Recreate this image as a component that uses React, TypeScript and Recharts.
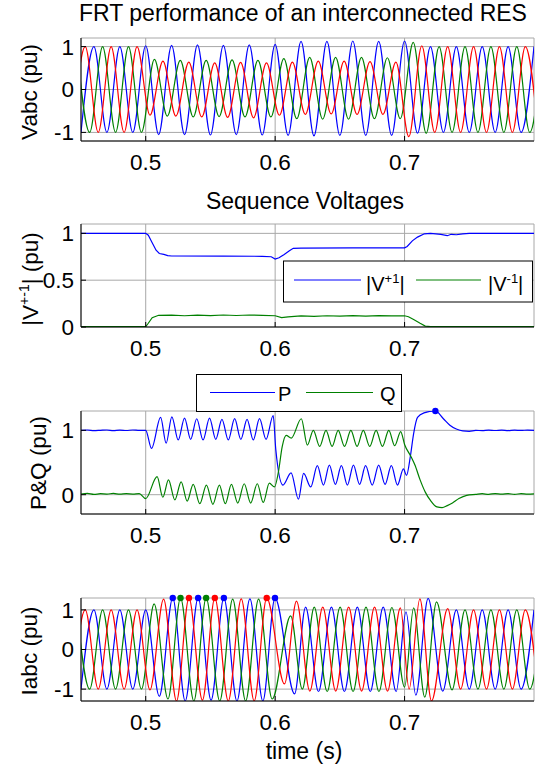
import React from "react";
import { CartesianGrid, Line, LineChart, XAxis, YAxis } from "recharts";

type Pt = [number, number];

// shared time axis
const timeTicks = [0.5, 0.6, 0.7];
const timeRange: [number, number] = [0.45, 0.8];

const vabcTicks = [-1, 0, 1];
const seqTicks = [0, 0.5, 1];
const pqTicks = [0, 1];
const iabcTicks = [-1, 0, 1];

// Vabc: half-cycle extremes (time s, pu) per phase
const vaPts: Pt[] = [
  [0.4433, -1.0], [0.4533, 1.0], [0.4633, -1.0], [0.4733, 1.0], [0.4833, -1.0], [0.4933, 1.0],
  [0.5033, -0.6], [0.5133, 0.66], [0.5233, -0.62], [0.5333, 0.64], [0.5433, -0.64], [0.5533, 0.62],
  [0.5633, -0.65], [0.5733, 0.63], [0.5833, -0.66], [0.5933, 0.62], [0.6033, -0.6], [0.6133, 0.64],
  [0.6233, -0.58], [0.6333, 0.66], [0.6433, -0.57], [0.6533, 0.66], [0.6633, -0.58], [0.6733, 0.65],
  [0.6833, -0.58], [0.6933, 0.64], [0.7033, -1.1], [0.7133, 1.02], [0.7233, -1.0], [0.7333, 1.0],
  [0.7433, -1.0], [0.7533, 1.0], [0.7633, -1.0], [0.7733, 1.0], [0.7833, -1.0], [0.7933, 1.0], [0.8033, -1.0],
];
const vbPts: Pt[] = [
  [0.4467, 1.0], [0.4567, -1.0], [0.4667, 1.0], [0.4767, -1.0], [0.4867, 1.0], [0.4967, -1.0],
  [0.5067, 0.7], [0.5167, -0.62], [0.5267, 0.68], [0.5367, -0.64], [0.5467, 0.68], [0.5567, -0.63],
  [0.5667, 0.69], [0.5767, -0.64], [0.5867, 0.68], [0.5967, -0.64], [0.6067, 0.72], [0.6167, -0.68],
  [0.6267, 0.75], [0.6367, -0.69], [0.6467, 0.75], [0.6567, -0.69], [0.6667, 0.75], [0.6767, -0.68],
  [0.6867, 0.74], [0.6967, -0.68], [0.7067, 1.1], [0.7167, -1.02], [0.7267, 1.0], [0.7367, -1.0],
  [0.7467, 1.0], [0.7567, -1.0], [0.7667, 1.0], [0.7767, -1.0], [0.7867, 1.0], [0.7967, -1.0], [0.8067, 1.0],
];
const vcPts: Pt[] = [
  [0.45, -1.0], [0.46, 1.0], [0.47, -1.0], [0.48, 1.0], [0.49, -1.0], [0.5, 1.02],
  [0.51, -1.05], [0.52, 1.03], [0.53, -1.05], [0.54, 1.04], [0.55, -1.06], [0.56, 1.03],
  [0.57, -1.05], [0.58, 1.04], [0.59, -1.06], [0.6, 1.05], [0.61, -1.07], [0.62, 1.12],
  [0.63, -1.08], [0.64, 1.12], [0.65, -1.07], [0.66, 1.13], [0.67, -1.07], [0.68, 1.12],
  [0.69, -1.07], [0.7, 1.13], [0.71, -1.02], [0.72, 1.0], [0.73, -1.0], [0.74, 1.0],
  [0.75, -1.0], [0.76, 1.0], [0.77, -1.0], [0.78, 1.0], [0.79, -1.0], [0.8, 1.0],
];

// sequence voltage magnitudes
const vPosPts: Pt[] = [
  [0.45, 1.0], [0.5, 1.0], [0.502, 0.98], [0.505, 0.9], [0.508, 0.82], [0.5105, 0.785], [0.514, 0.775],
  [0.517, 0.762], [0.52, 0.758], [0.56, 0.757], [0.59, 0.755], [0.597, 0.75], [0.6, 0.725], [0.603, 0.74],
  [0.607, 0.775], [0.611, 0.815], [0.614, 0.84], [0.62, 0.843], [0.66, 0.845], [0.7, 0.845], [0.702, 0.86],
  [0.706, 0.92], [0.71, 0.96], [0.7153, 0.995], [0.72, 1.0], [0.728, 0.99], [0.733, 0.975], [0.736, 0.99],
  [0.74, 0.985], [0.745, 0.995], [0.75, 1.0], [0.8, 1.0],
];
const vNegPts: Pt[] = [
  [0.45, 0.004], [0.5, 0.004], [0.502, 0.04], [0.505, 0.1], [0.51, 0.125], [0.52, 0.126], [0.53, 0.12],
  [0.54, 0.127], [0.55, 0.122], [0.56, 0.128], [0.57, 0.123], [0.58, 0.128], [0.59, 0.124], [0.6, 0.12],
  [0.605, 0.1], [0.61, 0.108], [0.62, 0.118], [0.63, 0.114], [0.64, 0.12], [0.65, 0.116], [0.66, 0.121],
  [0.67, 0.117], [0.68, 0.121], [0.69, 0.118], [0.7, 0.12], [0.703, 0.11], [0.707, 0.08], [0.712, 0.04],
  [0.716, 0.01], [0.72, 0.004], [0.8, 0.004],
];

// active / reactive power
const pPts: Pt[] = [
  [0.45, 1.0], [0.455, 1.005], [0.46, 0.995], [0.465, 1.0], [0.47, 1.005], [0.475, 0.995], [0.48, 1.003],
  [0.485, 0.997], [0.49, 1.005], [0.495, 0.998], [0.5, 1.0], [0.5045, 0.72], [0.5115, 1.2], [0.5158, 0.8],
  [0.5202, 1.21], [0.5251, 0.85], [0.53, 1.19], [0.5347, 0.86], [0.5394, 1.18], [0.5443, 0.85], [0.5493, 1.19],
  [0.5541, 0.86], [0.5589, 1.17], [0.5638, 0.85], [0.5687, 1.18], [0.5735, 0.86], [0.5783, 1.17], [0.5831, 0.85],
  [0.5879, 1.18], [0.593, 0.86], [0.5985, 1.23], [0.6005, 0.7], [0.606, 0.15], [0.6123, 0.34], [0.618, -0.07],
  [0.622, 0.33], [0.6275, 0.12], [0.6326, 0.45], [0.6373, 0.15], [0.6419, 0.46], [0.6465, 0.16], [0.6512, 0.45],
  [0.6558, 0.15], [0.6605, 0.46], [0.6652, 0.16], [0.6699, 0.45], [0.675, 0.15], [0.68, 0.46], [0.6849, 0.16],
  [0.6898, 0.45], [0.6945, 0.15], [0.6991, 0.4], [0.7015, 0.3], [0.7045, 0.6], [0.707, 0.95], [0.71, 1.2],
  [0.715, 1.27], [0.7238, 1.3], [0.73, 1.18], [0.735, 1.08], [0.74, 1.02], [0.745, 0.99], [0.75, 0.985],
  [0.755, 1.0], [0.76, 0.995], [0.765, 1.003], [0.77, 0.997], [0.775, 1.004], [0.78, 0.996], [0.785, 1.003],
  [0.79, 0.998], [0.795, 1.004], [0.8, 1.0],
];
const qPts: Pt[] = [
  [0.45, 0.01], [0.455, 0.02], [0.46, 0.005], [0.465, 0.015], [0.47, 0.01], [0.475, 0.02], [0.48, 0.008],
  [0.485, 0.015], [0.49, 0.01], [0.495, 0.018], [0.5, -0.06], [0.5088, 0.28], [0.5132, -0.04], [0.5176, 0.23],
  [0.5225, -0.08], [0.5274, 0.2], [0.532, -0.1], [0.5367, 0.16], [0.5418, -0.14], [0.5469, 0.15], [0.5519, -0.15],
  [0.5569, 0.15], [0.5615, -0.14], [0.5662, 0.16], [0.5711, -0.13], [0.5761, 0.17], [0.5811, -0.13], [0.5862, 0.17],
  [0.5908, -0.12], [0.5955, 0.18], [0.5995, 0.12], [0.6025, 0.35], [0.6055, 0.75], [0.6085, 0.92], [0.6125, 0.88],
  [0.6202, 1.18], [0.6249, 0.77], [0.6295, 1.0], [0.6344, 0.75], [0.6393, 1.0], [0.644, 0.75], [0.6487, 1.0],
  [0.6536, 0.75], [0.6585, 1.0], [0.6633, 0.75], [0.6681, 1.0], [0.6731, 0.75], [0.678, 1.0], [0.6829, 0.75],
  [0.6878, 1.0], [0.6924, 0.76], [0.697, 0.98], [0.7, 0.78], [0.705, 0.59], [0.708, 0.46], [0.712, 0.23],
  [0.716, 0.04], [0.72, -0.09], [0.725, -0.19], [0.729, -0.2], [0.733, -0.17], [0.737, -0.13], [0.742, -0.06],
  [0.748, -0.01], [0.755, 0.005], [0.76, 0.015], [0.765, 0.005], [0.77, 0.018], [0.775, 0.008], [0.78, 0.016],
  [0.785, 0.006], [0.79, 0.015], [0.795, 0.008], [0.8, 0.012],
];

// Iabc: half-cycle extremes per phase
const iaPts: Pt[] = [
  [0.4433, -1.0], [0.4533, 1.0], [0.4633, -1.0], [0.4733, 1.0], [0.4833, -1.0], [0.4933, 1.0],
  [0.5033, -1.02], [0.5138, 1.27], [0.5238, -1.3], [0.5334, 1.3], [0.5438, -1.28], [0.5534, 1.3],
  [0.5638, -1.3], [0.5738, 1.28], [0.5838, -1.3], [0.5935, 1.3], [0.6072, -0.87], [0.6165, 1.22],
  [0.6268, -1.05], [0.6368, 1.07], [0.6468, -1.05], [0.6568, 1.07], [0.6668, -1.05], [0.6768, 1.07],
  [0.6868, -1.05], [0.6968, 1.05], [0.7035, -1.0], [0.7118, 1.28], [0.7208, -1.3], [0.7333, 1.03],
  [0.7433, -1.0], [0.7533, 1.0], [0.7633, -1.0], [0.7733, 1.0], [0.7833, -1.0], [0.7933, 1.0], [0.8033, -1.0],
];
const ibPts: Pt[] = [
  [0.4467, 1.0], [0.4567, -1.0], [0.4667, 1.0], [0.4767, -1.0], [0.4867, 1.0], [0.4967, -1.0],
  [0.5065, 1.15], [0.5172, -1.25], [0.5269, 1.3], [0.5372, -1.3], [0.5467, 1.3], [0.5572, -1.3],
  [0.5672, 1.27], [0.5772, -1.3], [0.5872, 1.27], [0.5977, -1.25], [0.612, 0.85], [0.621, -1.0],
  [0.6302, 1.07], [0.6402, -1.06], [0.6502, 1.07], [0.6602, -1.06], [0.6702, 1.07], [0.6802, -1.06],
  [0.6902, 1.06], [0.7, -0.95], [0.707, 1.05], [0.7156, -1.2], [0.7247, 1.2], [0.7367, -1.02],
  [0.7467, 1.0], [0.7567, -1.0], [0.7667, 1.0], [0.7767, -1.0], [0.7867, 1.0], [0.7967, -1.0], [0.8067, 1.0],
];
const icPts: Pt[] = [
  [0.45, -1.0], [0.46, 1.0], [0.47, -1.0], [0.48, 1.0], [0.49, -1.0], [0.5, 1.0],
  [0.5105, -1.18], [0.5209, 1.3], [0.5305, -1.3], [0.5405, 1.3], [0.5505, -1.28], [0.5604, 1.3],
  [0.5705, -1.3], [0.5805, 1.28], [0.5905, -1.3], [0.5999, 1.3], [0.615, -1.12], [0.6235, 1.07],
  [0.6335, -1.06], [0.6435, 1.07], [0.6535, -1.06], [0.6635, 1.07], [0.6735, -1.06], [0.6835, 1.07],
  [0.6935, -1.06], [0.7011, 0.95], [0.7087, -1.15], [0.7182, 1.29], [0.7295, -1.05], [0.74, 1.0],
  [0.75, -1.0], [0.76, 1.0], [0.77, -1.0], [0.78, 1.0], [0.79, -1.0], [0.8, 1.0],
];

const BLUE = "#0000ff";
const GREEN = "#008000";
const RED = "#ff0000";
const FONT = "'Liberation Sans', Arial, Helvetica, sans-serif";
const CLIP = 1.3;
const tickStyle = { fill: "#000", fontSize: 22.5, fontFamily: FONT };
const frame = { stroke: "#000" };

const toRows = (pts: Pt[]) => pts.map(([t, v]) => ({ t, v }));

function wave(pts: Pt[], color: string, key: string, curve: "monotone" | "linear" = "monotone") {
  return (
    <Line
      key={key}
      data={toRows(pts)}
      dataKey="v"
      type={curve}
      stroke={color}
      strokeWidth={1.2}
      dot={false}
      activeDot={false}
      isAnimationActive={false}
    />
  );
}

// markers where a trace runs into the top of the axes
function clipMarks(pts: Pt[], color: string, key: string) {
  return (
    <Line
      key={key}
      data={toRows(pts.filter((p) => p[1] >= CLIP))}
      dataKey="v"
      xAxisId="free"
      yAxisId="free"
      stroke="none"
      dot={{ r: 3.2, fill: color, stroke: color, strokeWidth: 0 }}
      activeDot={false}
      isAnimationActive={false}
    />
  );
}

interface PanelProps {
  top: number;
  height: number;
  domain: [number, number];
  ticks: number[];
  children: React.ReactNode;
}

function Panel({ top, height, domain, ticks, children }: PanelProps) {
  const pad = 12;
  return (
    <div style={{ position: "absolute", left: 0, top: top - pad }}>
      <LineChart width={537} height={pad + height + 40} margin={{ top: pad, right: 3, bottom: 0, left: 0 }}>
        <CartesianGrid stroke="#a8a8a8" />
        <XAxis dataKey="t" type="number" domain={timeRange} ticks={timeTicks} allowDataOverflow interval={0}
          height={40} tick={tickStyle} tickSize={-5} tickMargin={18} tickLine={frame} axisLine={frame} />
        <XAxis xAxisId="top" orientation="top" dataKey="t" type="number" domain={timeRange} ticks={timeTicks}
          allowDataOverflow interval={0} height={0} tick={false} tickSize={-5} tickLine={frame} axisLine={frame} />
        <XAxis xAxisId="free" dataKey="t" type="number" domain={timeRange} hide />
        <YAxis type="number" domain={domain} ticks={ticks} allowDataOverflow interval={0} width={81}
          tick={tickStyle} tickSize={-5} tickMargin={12} tickLine={frame} axisLine={frame} />
        <YAxis yAxisId="right" orientation="right" type="number" domain={domain} ticks={ticks} allowDataOverflow
          interval={0} width={0} tick={false} tickSize={-5} tickLine={frame} axisLine={frame} />
        <YAxis yAxisId="free" type="number" domain={domain} hide />
        {children}
      </LineChart>
    </div>
  );
}

export default function App() {
  return (
    <div style={{ position: "absolute", left: 0, top: 0, width: 537, height: 771, background: "#fff", fontFamily: FONT }}>
      <Panel top={38} height={103} domain={[-1.2, 1.2]} ticks={vabcTicks}>
        {[wave(vcPts, BLUE, "vc"), wave(vbPts, GREEN, "vb"), wave(vaPts, RED, "va")]}
      </Panel>
      <Panel top={224} height={103} domain={[0, 1.1]} ticks={seqTicks}>
        {[wave(vPosPts, BLUE, "vp", "linear"), wave(vNegPts, GREEN, "vn", "linear")]}
      </Panel>
      <Panel top={411} height={103} domain={[-0.3, 1.3]} ticks={pqTicks}>
        {[wave(pPts, BLUE, "p"), wave(qPts, GREEN, "q"), clipMarks(pPts, BLUE, "pm")]}
      </Panel>
      <Panel top={598} height={103} domain={[-1.3, 1.3]} ticks={iabcTicks}>
        {[
          wave(icPts, BLUE, "ic"), wave(ibPts, GREEN, "ib"), wave(iaPts, RED, "ia"),
          clipMarks(icPts, BLUE, "icm"), clipMarks(ibPts, GREEN, "ibm"), clipMarks(iaPts, RED, "iam"),
        ]}
      </Panel>

      <svg width={537} height={771} style={{ position: "absolute", left: 0, top: 0, pointerEvents: "none" }}
        fontFamily={FONT}>
        <text x={303} y={21} fontSize={23} textAnchor="middle">FRT performance of an interconnected RES</text>
        <text x={305} y={209} fontSize={23} textAnchor="middle">Sequence Voltages</text>
        <text x={304} y={759} fontSize={23} textAnchor="middle">time (s)</text>

        <text transform="translate(37,92) rotate(-90)" fontSize={22.5} textAnchor="middle">Vabc (pu)</text>
        <text transform="translate(38,279) rotate(-90)" fontSize={22.5} textAnchor="middle">
          |V<tspan dy={-9} fontSize={14}>+-1</tspan><tspan dy={9}>| (pu)</tspan>
        </text>
        <text transform="translate(46,463) rotate(-90)" fontSize={22.5} textAnchor="middle">P&amp;Q (pu)</text>
        <text transform="translate(37,651) rotate(-90)" fontSize={22.5} textAnchor="middle">Iabc (pu)</text>

        {/* sequence voltage legend */}
        <rect x={283.5} y={261} width={249} height={41} fill="#fff" stroke="#000" strokeWidth={1} />
        <line x1={294} x2={361} y1={280} y2={280} stroke={BLUE} />
        <text x={366} y={291} fontSize={20}>
          |V<tspan dy={-8} fontSize={13}>+1</tspan><tspan dy={8}>|</tspan>
        </text>
        <line x1={416} x2={481} y1={280} y2={280} stroke={GREEN} />
        <text x={488} y={291} fontSize={20}>
          |V<tspan dy={-8} fontSize={13}>-1</tspan><tspan dy={8}>|</tspan>
        </text>

        {/* power legend */}
        <rect x={196.5} y={374.5} width={205} height={37} fill="#fff" stroke="#000" strokeWidth={1} />
        <line x1={210} x2={275} y1={392.5} y2={392.5} stroke={BLUE} />
        <text x={278} y={401} fontSize={20}>P</text>
        <line x1={306} x2={373} y1={392.5} y2={392.5} stroke={GREEN} />
        <text x={380} y={401} fontSize={20}>Q</text>
      </svg>
    </div>
  );
}
